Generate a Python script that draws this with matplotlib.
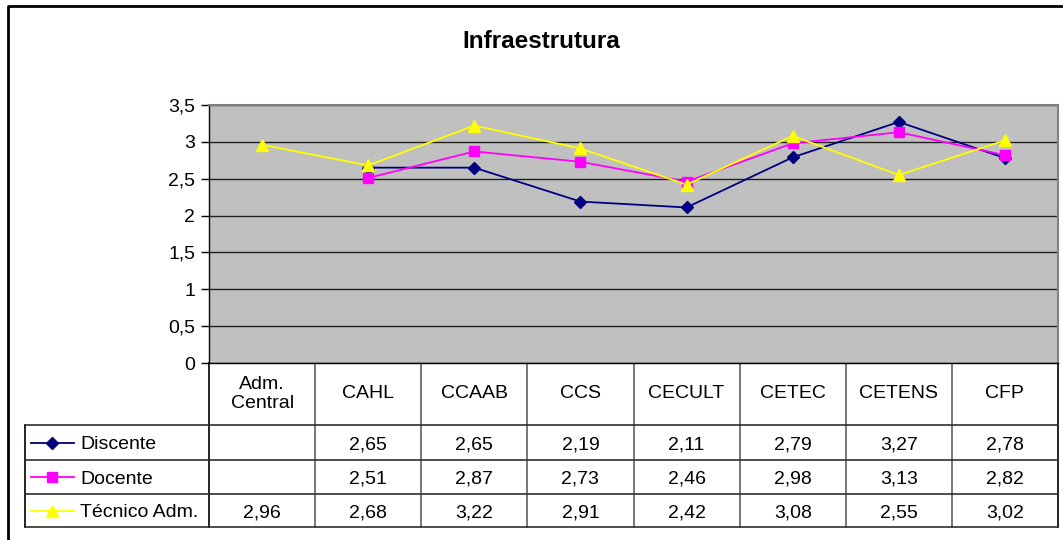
import numpy as np
import matplotlib
matplotlib.use("Agg")
import matplotlib.pyplot as plt

plt.rcParams['font.family'] = ['Liberation Sans', 'DejaVu Sans']

# --- data -------------------------------------------------------------
title = "Infraestrutura"
categories = ["Adm.\nCentral", "CAHL", "CCAAB", "CCS", "CECULT", "CETEC", "CETENS", "CFP"]
series_names = ["Discente", "Docente", "Técnico Adm."]
discente = [np.nan, 2.65, 2.65, 2.19, 2.11, 2.79, 3.27, 2.78]
docente = [np.nan, 2.51, 2.87, 2.73, 2.46, 2.98, 3.13, 2.82]
tecnico = [2.96, 2.68, 3.22, 2.91, 2.42, 3.08, 2.55, 3.02]
y_ticks = [0, 0.5, 1, 1.5, 2, 2.5, 3, 3.5]

series = [discente, docente, tecnico]
colors = ["#000080", "#FF00FF", "#FFFF00"]
markers = ["D", "s", "^"]
msizes = [6.5, 7, 8.5]

# --- figure geometry (pixels) ----------------------------------------
W, H = 1063, 540
fig = plt.figure(figsize=(W / 100, H / 100), dpi=100)
fig.patch.set_facecolor("white")

px_left, px_right = 209, 1058
px_top, px_bottom = 105, 363
row_edges = [363, 425, 460, 494, 527]
lab_left = 25

# overlay in pixel coordinates for the frame and data table
ov = fig.add_axes([0, 0, 1, 1], zorder=0)
ov.set_xlim(0, W)
ov.set_ylim(H, 0)
ov.axis("off")
ov.patch.set_alpha(0)

# outer chart frame
ov.plot([8, 8, W + 5], [H + 5, 6, 6], color="black", lw=2.0, solid_capstyle="butt")

# plot area
ax = fig.add_axes([px_left / W, (H - px_bottom) / H,
                   (px_right - px_left) / W, (px_bottom - px_top) / H], zorder=1)
ax.set_facecolor("#C0C0C0")
n = len(categories)
x = np.arange(n)
ax.set_xlim(-0.5, n - 0.5)
ax.set_ylim(0, 3.5)
ax.set_yticks(y_ticks)
ax.set_yticklabels([f"{v:g}".replace(".", ",") for v in y_ticks], fontsize=14)
ax.tick_params(axis="y", length=6, width=1, color="black", pad=4)
ax.set_xticks([])
ax.yaxis.grid(True, color="#202020", lw=1.0)
ax.set_axisbelow(True)
for s in ["left", "bottom"]:
    ax.spines[s].set_color("black")
    ax.spines[s].set_linewidth(1.0)
for s in ["top", "right"]:
    ax.spines[s].set_color("#808080")
    ax.spines[s].set_linewidth(1.5)

for vals, c, m, ms in zip(series, colors, markers, msizes):
    v = np.array(vals, dtype=float)
    ok = ~np.isnan(v)
    ax.plot(x[ok], v[ok], color=c, lw=1.3, marker=m, markersize=ms,
            markerfacecolor=c, markeredgecolor=c, zorder=3)

ov.text(541, 42, title, ha="center", va="center", fontsize=17.5, fontweight="bold")

# --- data table -------------------------------------------------------
col_w = (px_right - px_left) / n
col_edges = [px_left + i * col_w for i in range(n + 1)]
lc = "#303030"

# vertical lines
for i, xe in enumerate(col_edges):
    ov.plot([xe, xe], [row_edges[0], row_edges[-1]],
            color="black" if i in (0, n) else "#606060", lw=1.2)
ov.plot([lab_left, lab_left], [row_edges[1], row_edges[-1]], color="black", lw=1.2)
# horizontal lines
ov.plot([px_left, px_right], [row_edges[0], row_edges[0]], color="black", lw=1.2)
for ye in row_edges[1:]:
    ov.plot([lab_left, px_right], [ye, ye], color=lc, lw=1.2)

# header cells
hy = 0.5 * (row_edges[0] + row_edges[1])
for i, cat in enumerate(categories):
    cx = 0.5 * (col_edges[i] + col_edges[i + 1])
    ov.text(cx, hy, cat, ha="center", va="center", fontsize=14, linespacing=1.15)

# series rows with legend keys
for r, (name, vals, c, m, ms) in enumerate(zip(series_names, series, colors, markers, msizes)):
    cy = 0.5 * (row_edges[r + 1] + row_edges[r + 2])
    ty = cy + 2
    ov.plot([31, 74], [cy, cy], color=c, lw=1.3)
    ov.plot([52], [cy], marker=m, markersize=ms * 0.95, color=c, markeredgecolor=c)
    ov.text(80, ty, name, ha="left", va="center", fontsize=14)
    for i, v in enumerate(vals):
        if np.isnan(v):
            continue
        cx = 0.5 * (col_edges[i] + col_edges[i + 1])
        ov.text(cx, ty, f"{v:.2f}".replace(".", ","), ha="center", va="center", fontsize=14)

fig.savefig("out.png", dpi=100)
